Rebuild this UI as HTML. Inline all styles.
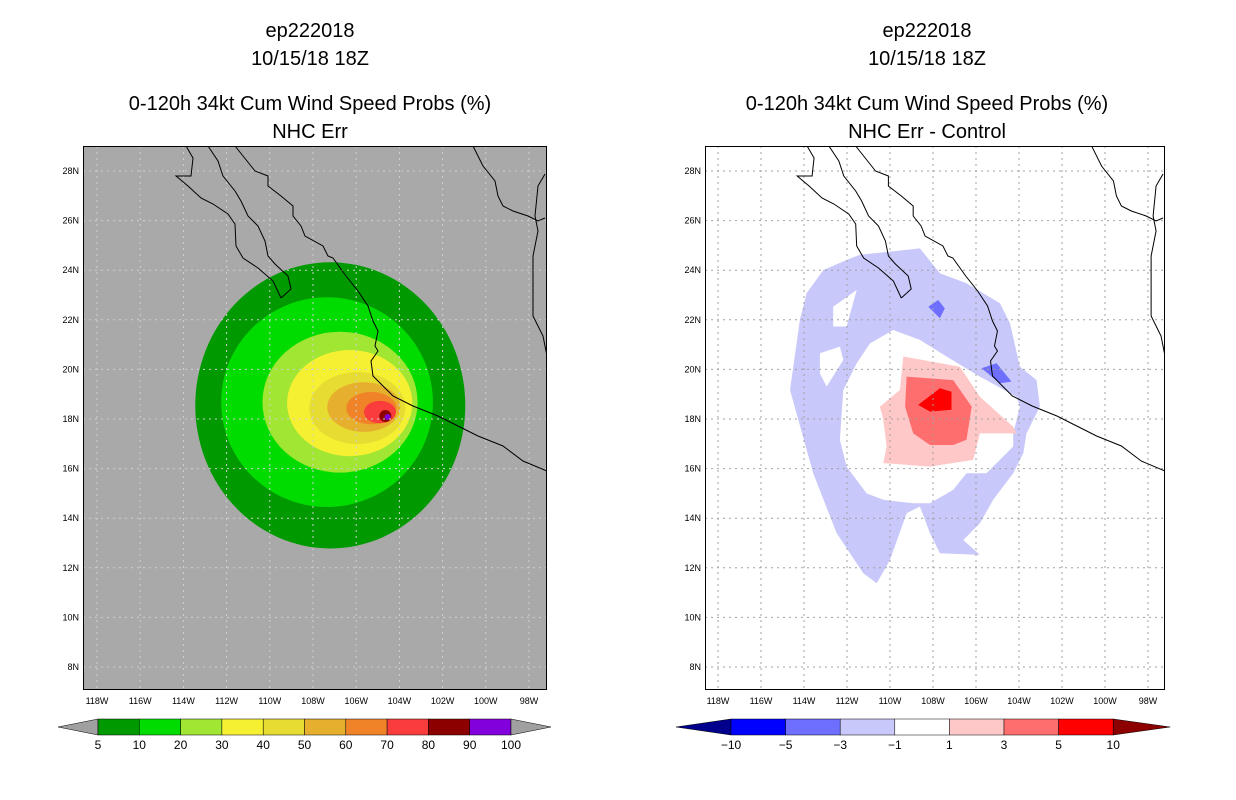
<!DOCTYPE html>
<html><head><meta charset="utf-8">
<style>
html,body{margin:0;padding:0;background:#fff;}
svg{display:block;font-family:"Liberation Sans",sans-serif;}
.t{font-size:20px;fill:#000;text-anchor:middle;}
.tk{font-size:9px;fill:#000;}
.cb{font-size:12px;fill:#000;text-anchor:middle;}
</style></head>
<body>
<svg id="s" width="1236" height="800" viewBox="0 0 1236 800">
<g>
<text class="t" x="310" y="37">ep222018</text>
<text class="t" x="310" y="65">10/15/18 18Z</text>
<text class="t" x="310" y="110">0-120h 34kt Cum Wind Speed Probs (%)</text>
<text class="t" x="310" y="138">NHC Err</text>
</g>
<g>
<text class="t" x="927" y="37">ep222018</text>
<text class="t" x="927" y="65">10/15/18 18Z</text>
<text class="t" x="927" y="110">0-120h 34kt Cum Wind Speed Probs (%)</text>
<text class="t" x="927" y="138">NHC Err - Control</text>
</g>
</svg>
<script>
// ---- data ----
var lonTicks=[118,116,114,112,110,108,106,104,102,100,98];
var latTicks=[28,26,24,22,20,18,16,14,12,10,8];
// left panel: probability levels as ellipses [lonW, lat, rxDeg, ryDeg]
var probLevels=[5,10,20,30,40,50,60,70,80,90];
var probColors=["#009a00","#00dc00","#a0e632","#f5f032","#e6dc32","#e6af2d","#f08228","#fa3c3c","#8c0000","#8200dc"];
var probCenterLon=[107.2,107.35,106.75,106.3,105.95,105.65,105.3,104.9,104.65,104.55];
var probCenterLat=[18.55,18.68,18.68,18.64,18.44,18.48,18.44,18.28,18.12,18.08];
var probRxDeg=[6.25,4.9,3.59,2.9,2.22,1.69,1.16,0.74,0.28,0.14];
var probRyDeg=[5.77,4.23,2.84,2.14,1.45,1.0,0.65,0.45,0.24,0.12];
// right panel: difference polygons (lonW,lat pairs)
var diffBlueRing=[[111.4,24.62],[108.61,24.88],[107.68,23.88],[106.44,23.47],[104.89,22.67],[104.42,21.86],[103.96,20.11],[103.18,19.57],[103.03,18.5],[103.65,17.42],[103.8,16.62],[104.27,15.81],[105.2,14.74],[105.82,13.8],[106.59,13.12],[105.82,12.52],[107.68,12.59],[108.14,13.39],[108.61,14.47],[109.23,14.2],[110.0,12.32],[110.62,11.38],[111.24,11.78],[112.48,13.39],[113.57,15.81],[114.65,19.17],[114.19,22.0],[113.88,23.07],[113.1,24.01],[112.02,24.41]];
var diffWhiteHole=[[109.85,21.59],[108.61,21.19],[107.37,20.52],[105.82,19.71],[104.11,18.9],[103.96,18.5],[104.27,17.42],[104.27,16.89],[105.51,15.81],[106.44,15.81],[107.06,15.14],[108.14,14.6],[108.92,14.6],[110.31,14.74],[111.09,15.0],[112.02,16.08],[112.33,17.16],[112.17,19.17],[111.55,20.25],[110.93,21.05]];
var diffWhiteHole2=[[112.64,22.53],[111.55,23.2],[112.02,21.73],[112.64,21.73]];
var diffWhiteHole3=[[113.26,20.65],[112.33,20.92],[112.17,20.38],[112.95,19.31],[113.26,19.84]];
var diffPink=[[109.38,20.52],[106.75,20.11],[105.82,18.9],[104.27,17.69],[104.11,17.42],[105.82,17.42],[106.13,16.35],[108.14,16.08],[110.31,16.22],[110.16,16.89],[110.31,17.96],[110.47,18.5],[109.54,19.17]];
var diffRed=[[109.23,19.71],[107.06,19.57],[106.2,18.5],[106.44,17.16],[107.06,16.95],[108.14,16.95],[108.92,17.42],[109.3,18.5]];
var diffRedDark=[[108.69,18.57],[107.68,19.24],[107.14,19.1],[107.14,18.37],[108.14,18.3]];
var diffBlue1=[[108.22,22.53],[107.76,22.8],[107.45,22.46],[107.68,22.06]];
var diffBlue2=[[105.74,20.05],[105.04,20.25],[104.35,19.51],[104.89,19.44]];
// colorbars
var leftCbLabels=["5","10","20","30","40","50","60","70","80","90","100"];
var rightCbLabels=["-10","-5","-3","-1","1","3","5","10"];
var rightCbColors=["#0000ff","#6e6eff","#c8c8fa","#ffffff","#ffc8c8","#ff6e6e","#ff0000"];

var NS="http://www.w3.org/2000/svg";
var svg=document.getElementById("s");
function mk(tag,attrs,parent){var e=document.createElementNS(NS,tag);for(var k in attrs)e.setAttribute(k,attrs[k]);(parent||svg).appendChild(e);return e;}

var panels=[
 {name:"left",x0:83,y0:146,w:464,h:544,xref:97,pxDeg:21.6,bg:"#a9a9a9",grid:"#d0d0d0"},
 {name:"right",x0:705,y0:146,w:460,h:544,xref:718,pxDeg:21.5,bg:"#ffffff",grid:"#a0a0a0"}
];
panels.forEach(function(p){
 p.X=function(lon){return p.xref+(118-lon)*p.pxDeg;};
 p.Y=function(lat){return 171+(28-lat)*24.8;};
});
function pts(p,arr){return arr.map(function(a){return p.X(a[0]).toFixed(1)+","+p.Y(a[1]).toFixed(1);}).join(" ");}

// coastline (pixel offsets from plot origin - map background)
var coastBajaW=[[103,0],[110,12],[108,30],[93,30],[105,40],[118,52],[130,58],[145,68],[152,78],[153,100],[160,112],[175,122],[190,135],[198,152]];
var coastBajaE=[[125,0],[135,15],[140,30],[152,45],[158,55],[165,70],[175,80],[182,95],[185,110],[192,118],[205,130],[208,143],[198,152]];
var coastMainland=[[152,0],[160,10],[172,25],[185,30],[185,40],[198,50],[210,60],[210,70],[218,80],[222,90],[240,100],[245,110],[250,112],[263,130],[275,145],[285,160],[290,175],[295,185],[292,200],[295,205],[288,215],[290,230],[300,240],[310,250],[330,260],[355,270],[375,280],[395,290],[420,300],[440,315],[464,325]];
var coastGulf=[[390,0],[400,20],[412,35],[415,50],[420,60],[430,65],[445,70],[455,75],[462,72]];
var coastEast=[[462,28],[455,40],[452,70],[455,85],[450,110],[450,150],[450,170],[455,180],[460,190],[464,210]];

panels.forEach(function(p){
 var g=mk("g",{});
 
 
 var cid="clip-"+p.name;
 var cp=mk("clipPath",{id:cid},g);mk("rect",{x:p.x0,y:p.y0,width:p.w,height:p.h},cp);
 var bg=mk("rect",{x:p.x0,y:p.y0,width:p.w,height:p.h,fill:p.bg},g);
 
 
 var inner=mk("g",{"clip-path":"url(#"+cid+")"},g);
 if(p.name==="left"){
  for(var i=0;i<probLevels.length;i++){
   var e=mk("ellipse",{cx:p.X(probCenterLon[i]),cy:p.Y(probCenterLat[i]),rx:probRxDeg[i]*p.pxDeg,ry:probRyDeg[i]*24.8,fill:probColors[i]},inner);
   
   
  }
 } else {
  var polys=[[diffBlueRing,"#c8c8fa","diff-minus1-region"],[diffWhiteHole,"#ffffff","diff-zero-region"],[diffWhiteHole2,"#ffffff","diff-zero-region-2"],[diffWhiteHole3,"#ffffff","diff-zero-region-3"],[diffPink,"#ffc8c8","diff-plus1-region"],[diffRed,"#ff6e6e","diff-plus3-region"],[diffRedDark,"#ff0000","diff-plus5-region"],[diffBlue1,"#6e6eff","diff-minus3-region-1"],[diffBlue2,"#6e6eff","diff-minus3-region-2"]];
  polys.forEach(function(q){
   var pg=mk("polygon",{points:pts(p,q[0]),fill:q[1]},inner);
   
   
  });
 }
 // grid
 lonTicks.forEach(function(l){var ln=mk("line",{x1:p.X(l),x2:p.X(l),y1:p.y0,y2:p.y0+p.h,stroke:p.grid,"stroke-dasharray":"2,4","stroke-width":1},inner);
  });
 latTicks.forEach(function(l){var ln=mk("line",{x1:p.x0,x2:p.x0+p.w,y1:p.Y(l),y2:p.Y(l),stroke:p.grid,"stroke-dasharray":"2,4","stroke-width":1},inner);
  });
 // coast
 [coastBajaW,coastBajaE,coastMainland,coastGulf,coastEast].forEach(function(c){
  var pl=mk("polyline",{points:c.map(function(a){return (p.x0+a[0]*p.w/464)+","+(p.y0+a[1]);}).join(" "),fill:"none",stroke:"#000","stroke-width":1},inner);
  
 });
 var fr=mk("rect",{x:p.x0+0.5,y:p.y0+0.5,width:p.w-1,height:p.h-1,fill:"none",stroke:"#000","stroke-width":1},g);
 
 lonTicks.forEach(function(l){var t=mk("text",{x:p.X(l),y:p.y0+p.h+14,"text-anchor":"middle","class":"tk"},g);t.textContent=l+"W";
  });
 latTicks.forEach(function(l){var t=mk("text",{x:p.x0-4,y:p.Y(l)+3,"text-anchor":"end","class":"tk"},g);t.textContent=l+"N";
  });
});

// left colorbar
(function(){
 var g=mk("g",{});
 var x0=98,bw=41.3,y0=719,h=16;
 var tl=mk("polygon",{points:(x0)+","+y0+" "+(x0)+","+(y0+h)+" 58,"+(y0+h/2),fill:"#a0a0a0",stroke:"#000","stroke-width":0.5},g);
 
 for(var i=0;i<probColors.length;i++){
  var r=mk("rect",{x:x0+i*bw,y:y0,width:bw,height:h,fill:probColors[i],stroke:"#000","stroke-width":0.5},g);
  
 }
 var xe=x0+probColors.length*bw;
 var tr=mk("polygon",{points:xe+","+y0+" "+xe+","+(y0+h)+" "+(xe+40)+","+(y0+h/2),fill:"#a0a0a0",stroke:"#000","stroke-width":0.5},g);
 
 leftCbLabels.forEach(function(s,i){var t=mk("text",{x:x0+i*bw,y:749,"class":"cb"},g);t.textContent=s;
  });
})();
// right colorbar
(function(){
 var g=mk("g",{});
 var x0=731,bw=54.6,y0=719,h=16;
 var tl=mk("polygon",{points:x0+","+y0+" "+x0+","+(y0+h)+" 676,"+(y0+h/2),fill:"#00008c",stroke:"#000","stroke-width":0.5},g);
 
 for(var i=0;i<rightCbColors.length;i++){
  var r=mk("rect",{x:x0+i*bw,y:y0,width:bw,height:h,fill:rightCbColors[i],stroke:"#000","stroke-width":0.5},g);
  
 }
 var xe=x0+rightCbColors.length*bw;
 var tr=mk("polygon",{points:xe+","+y0+" "+xe+","+(y0+h)+" "+(xe+57)+","+(y0+h/2),fill:"#8c0000",stroke:"#000","stroke-width":0.5},g);
 
 rightCbLabels.forEach(function(s,i){var t=mk("text",{x:x0+i*bw,y:749,"class":"cb"},g);t.textContent=s.replace("-","\u2212");
  });
})();
</script>
</body></html>
